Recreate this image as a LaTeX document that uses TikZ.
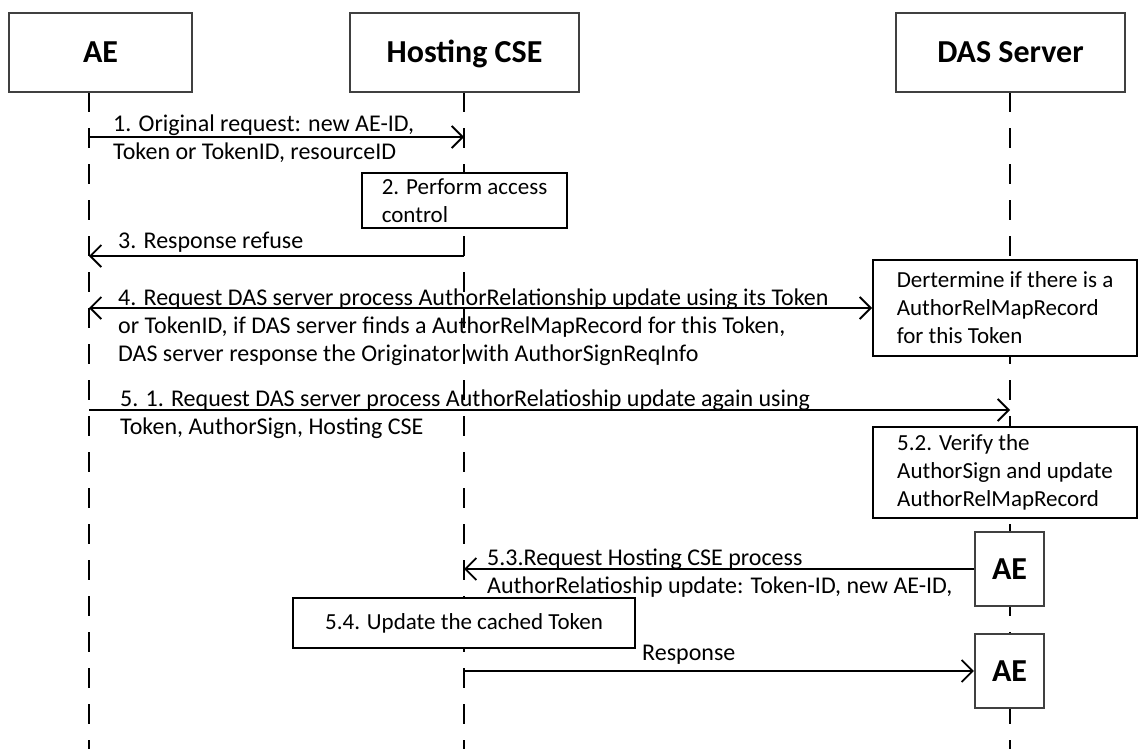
\documentclass[tikz,border=0pt]{standalone}
\usepackage{fontspec}
\setmainfont{Carlito}
\usetikzlibrary{arrows.meta,positioning}
\newcommand{\msgfont}{\fontsize{24}{28}\selectfont}
\newcommand{\boxfont}{\fontsize{23}{28}\selectfont}
\newcommand{\hdfont}{\bfseries\fontsize{32}{36}\selectfont}
\tikzstyle{actor}=[draw=black!75,line width=2.2pt,fill=white,inner sep=0pt,text height=20pt,text depth=0pt,font=\hdfont]
\tikzstyle{procbox}=[draw,line width=2pt,fill=white,align=left,inner sep=0pt,font=\boxfont]
\tikzstyle{msg}=[line width=1.8pt,->]
\tikzstyle{msglabel}=[anchor=base west,align=left,inner sep=0pt,font=\msgfont]
\tikzstyle{lifeline}=[line width=2pt,dash pattern=on 20pt off 16pt]
\tikzset{>={Straight Barb[length=11pt,width=22pt]}}
\newcommand{\drawlines}[2][\empty]{
	\foreach \a/\b in {#2}{
		\draw[#1] (\a) -- (\b);
	}
}

\begin{document}
\begin{tikzpicture}[x=1pt,y=-1pt]
\useasboundingbox (0,0) rectangle (1139,749);
% lifelines
\coordinate (ae0) at (89,92);
\coordinate (ae9) at (89,749);
\coordinate (cse0) at (464,92);
\coordinate (cse9) at (464,749);
\coordinate (das0) at (1010,92);
\coordinate (das9) at (1010,749);
\drawlines[lifeline]{ae0/ae9,cse0/cse9,das0/das9}

% entities
\node[actor,minimum width=183pt,minimum height=79pt] (aehd) at (100.5,52.5) {AE};
\node[actor,minimum width=229pt,minimum height=79pt] (csehd) at (464.5,52.5) {Hosting CSE};
\node[actor,minimum width=229pt,minimum height=79pt] (dashd) at (1010.5,52.5) {DAS Server};

% 1 (base = last line)
\coordinate (ae1) at (89,137);
\coordinate (cse1) at (464,137);
\draw[msg] (ae1) -- (cse1);
\node[msglabel] (l1) at (113,159) {1. Original request: new AE-ID,\\Token or TokenID, resourceID};

% 2
\node[procbox,minimum width=205pt,minimum height=55pt] (access) at (464.5,200.5) {2. Perform access\\control};

% 3
\coordinate (cse3) at (464,256);
\coordinate (ae3) at (89,256);
\draw[msg] (cse3) -- (ae3);
\node[msglabel] (l3) at (118,248) {3. Response refuse};

% 4
\node[procbox,minimum width=264pt,minimum height=96pt] (lookup) at (1005,308) {Dertermine if there is a\\AuthorRelMapRecord\\for this Token};
\coordinate (ae4) at (89,308);
\draw[msg,<->] (ae4) -- (lookup.west);
\node[msglabel] (l4) at (118,361) {4. Request DAS server process AuthorRelationship update using its Token\\or TokenID, if DAS server finds a AuthorRelMapRecord for this Token,\\DAS server response the Originator with AuthorSignReqInfo};

% 5.1
\coordinate (ae5) at (89,410);
\coordinate (das5) at (1010,410);
\draw[msg] (ae5) -- (das5);
\node[msglabel] (l51) at (120,434) {5. 1. Request DAS server process AuthorRelatioship update again using\\Token, AuthorSign, Hosting CSE};

% 5.2
\node[procbox,minimum width=264pt,minimum height=91pt] (verify) at (1005,472.5) {5.2. Verify the\\AuthorSign and update\\AuthorRelMapRecord};

% 5.3
\node[actor,minimum width=69pt,minimum height=74pt] (aenew) at (1009.5,569) {AE};
\coordinate (cse53) at (464,569);
\draw[msg] (aenew.west) -- (cse53);
\node[msglabel] (l53) at (487,593) {5.3.Request Hosting CSE process\\AuthorRelatioship update: Token-ID, new AE-ID,};

% 5.4
\node[procbox,minimum width=342pt,minimum height=50pt] (cache) at (464,623) {5.4. Update the cached Token};

% response
\node[actor,minimum width=69pt,minimum height=74pt] (aeresp) at (1009.5,671) {AE};
\coordinate (cse6) at (464,671);
\draw[msg] (cse6) -- (aeresp.west);
\node[msglabel] (l6) at (642,660) {Response};
\end{tikzpicture}
\end{document}
